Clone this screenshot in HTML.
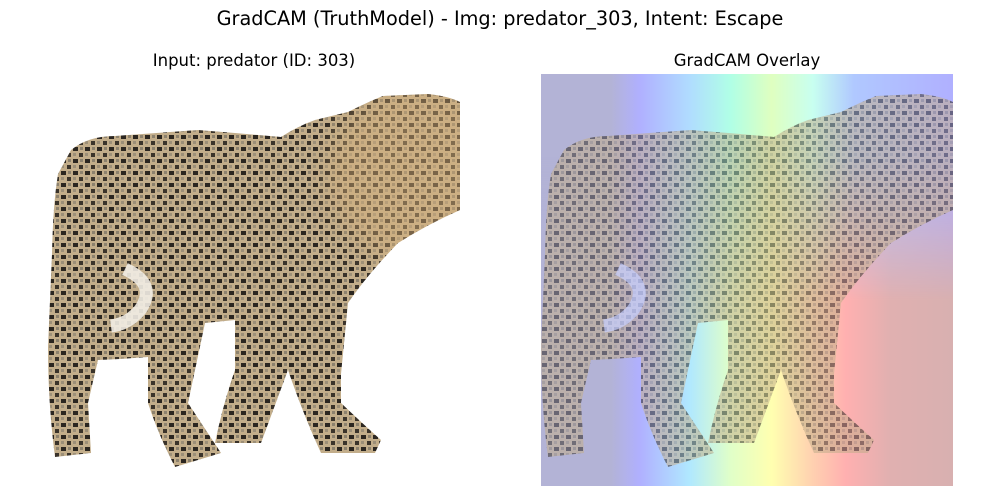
<!DOCTYPE html>
<html><head><style>
html,body{margin:0;padding:0;background:#fff;width:1000px;height:500px;overflow:hidden}
</style></head><body>
<svg width="1000" height="500" viewBox="0 0 1000 500" xmlns="http://www.w3.org/2000/svg" font-family="'DejaVu Sans','Liberation Sans',sans-serif">
<defs>
  <pattern id="spots" width="12" height="12" patternUnits="userSpaceOnUse">
    <rect width="12" height="12" fill="#c2ad8a"/>
    <rect x="1" y="1" width="5" height="4" fill="#2b2620"/>
    <rect x="7" y="7" width="4" height="4" fill="#3a332a"/>
    <rect x="8" y="1" width="3" height="3" fill="#8d826e"/>
    <rect x="1" y="7" width="3" height="3" fill="#9c8f78"/>
  </pattern>
  <path id="leo" d="M23,76 Q40,62 67,62 L150,56 Q200,60 233,63 Q250,52 267,46 L300,38 Q320,28 335,22 L380,20 Q400,22 412,28 L412,136 Q380,150 350,169 Q320,200 300,229 L293,300 L293,329 Q315,350 333,366 L327,379 L273,379 Q255,340 240,296 L213,369 L167,369 Q175,330 187,296 L187,246 L157,249 L140,329 L173,379 L127,393 Q110,360 100,329 L100,283 Q75,285 50,286 L40,329 L43,379 L7,383 Q0,330 0,273 L4,180 Q5,130 10,100 Z"/>
  <linearGradient id="heatTop" x1="0" x2="1" y1="0" y2="0">
    <stop offset="0" stop-color="#b3b3d6"/>
    <stop offset="0.17" stop-color="#b3b3d6"/>
    <stop offset="0.24" stop-color="#b0b0ff"/>
    <stop offset="0.36" stop-color="#b0dcff"/>
    <stop offset="0.46" stop-color="#b0ffe6"/>
    <stop offset="0.56" stop-color="#dfffc0"/>
    <stop offset="0.66" stop-color="#c8fff0"/>
    <stop offset="0.76" stop-color="#b0c8ff"/>
    <stop offset="1" stop-color="#b0b0ff"/>
  </linearGradient>
  <linearGradient id="heatBot" x1="0" x2="1" y1="0" y2="0">
    <stop offset="0" stop-color="#b3b3d6"/>
    <stop offset="0.17" stop-color="#b3b3d6"/>
    <stop offset="0.24" stop-color="#b0b0ff"/>
    <stop offset="0.36" stop-color="#b0e8ff"/>
    <stop offset="0.46" stop-color="#e0ffc8"/>
    <stop offset="0.56" stop-color="#ffffb0"/>
    <stop offset="0.66" stop-color="#ffd0b0"/>
    <stop offset="0.74" stop-color="#ffb0b0"/>
    <stop offset="0.85" stop-color="#e0b0b0"/>
    <stop offset="1" stop-color="#d8b0b0"/>
  </linearGradient>
  <linearGradient id="vmask" x1="0" x2="0" y1="0" y2="1">
    <stop offset="0.2" stop-color="#fff" stop-opacity="0"/>
    <stop offset="0.55" stop-color="#fff" stop-opacity="1"/>
  </linearGradient>
  <mask id="m"><rect width="412" height="412" fill="url(#vmask)"/></mask>
  <filter id="blur"><feGaussianBlur stdDeviation="12"/></filter>
  <clipPath id="cl"><use href="#leo"/></clipPath>
</defs>

<text x="500" y="25" text-anchor="middle" font-size="19.3" fill="#000">GradCAM (TruthModel) - Img: predator_303, Intent: Escape</text>
<text x="254" y="66" text-anchor="middle" font-size="16.5" fill="#000">Input: predator (ID: 303)</text>
<text x="747" y="66" text-anchor="middle" font-size="16.5" fill="#000">GradCAM Overlay</text>

<g transform="translate(48,74)">
  <use href="#leo" fill="url(#spots)"/>
  <g clip-path="url(#cl)">
    <ellipse cx="370" cy="100" rx="90" ry="90" fill="#d9b27a" opacity="0.45" filter="url(#blur)"/>
  </g>
  <path d="M77,195 Q110,210 92,236 Q80,250 63,252" fill="none" stroke="#f2ede4" stroke-width="13" opacity="0.9"/>
</g>

<g transform="translate(541,74)">
  <rect width="412" height="412" fill="url(#heatTop)"/>
  <rect width="412" height="412" fill="url(#heatBot)" mask="url(#m)"/>
  <use href="#leo" fill="url(#spots)" opacity="0.55"/>
  <path d="M77,195 Q110,210 92,236 Q80,250 63,252" fill="none" stroke="#c8d0ff" stroke-width="13" opacity="0.7"/>
</g>
</svg>
</body></html>
